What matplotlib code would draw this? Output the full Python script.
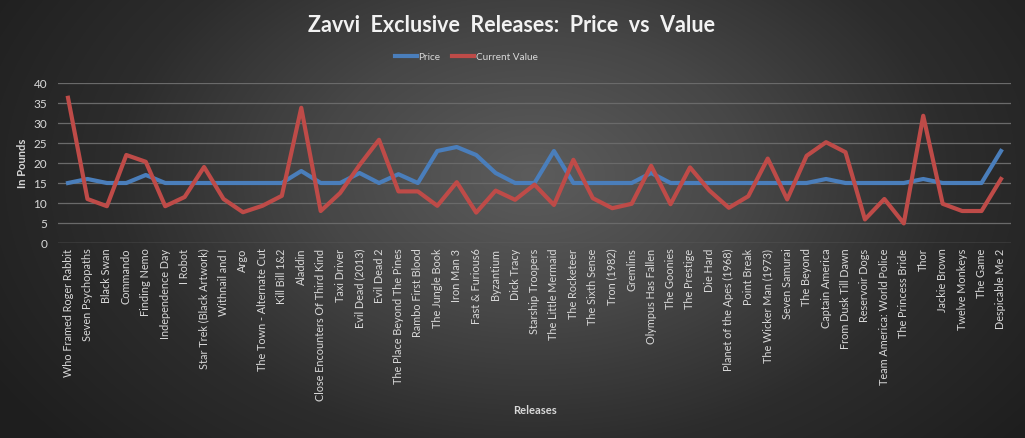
import numpy as np
import matplotlib
matplotlib.use("Agg")
import matplotlib.pyplot as plt
from matplotlib.colors import LinearSegmentedColormap

releases = [
    "Who Framed Roger Rabbit", "Seven Psychopaths", "Black Swan", "Commando",
    "Finding Nemo", "Independence Day", "I Robot", "Star Trek (Black Artwork)",
    "Withnail and I", "Argo", "The Town - Alternate Cut", "Kill Bill 1&2",
    "Aladdin", "Close Encounters Of Third Kind", "Taxi Driver", "Evil Dead (2013)",
    "Evil Dead 2", "The Place Beyond The Pines", "Rambo First Blood",
    "The Jungle Book", "Iron Man 3", "Fast & Furious6", "Byzantium", "Dick Tracy",
    "Starship Troopers", "The Little Mermaid", "The Rocketeer", "The Sixth Sense",
    "Tron (1982)", "Gremlins", "Olympus Has Fallen", "The Goonies", "The Prestige",
    "Die Hard", "Planet of the Apes (1968)", "Point Break", "The Wicker Man (1973)",
    "Seven Samurai", "The Beyond", "Captain America", "From Dusk Till Dawn",
    "Reservoir Dogs", "Team America: World Police", "The Princess Bride", "Thor",
    "Jackie Brown", "Twelve Monkeys", "The Game", "Despicable Me 2",
]

price = [15, 16, 15, 15, 17, 15, 15, 15, 15, 15, 15, 15, 18, 15, 15, 17.5, 15,
         17.2, 15, 23, 24, 22, 17.5, 15, 15, 23, 15, 15, 15, 15, 17.5, 15, 15,
         15, 15, 15, 15, 15, 15, 16, 15, 15, 15, 15, 16, 15, 15, 15, 23]

current_value = [36.3, 11, 9.2, 22, 20.3, 9.2, 11.5, 19, 11, 7.7, 9.3, 11.8,
                 33.8, 8, 12.5, 19.5, 25.8, 12.9, 12.9, 9.3, 15.2, 7.6, 13.1,
                 10.8, 14.6, 9.5, 20.8, 11.2, 8.7, 9.8, 19.3, 9.7, 18.9, 13.1,
                 8.8, 11.7, 21.1, 10.9, 21.8, 25.2, 22.7, 5.9, 11, 4.9, 31.8,
                 9.8, 8, 8, 16]

yticks = [0, 5, 10, 15, 20, 25, 30, 35, 40]

fig = plt.figure(figsize=(10.25, 4.38), dpi=100)

# radial gradient background
bg = fig.add_axes([0, 0, 1, 1], zorder=-10)
W, H = 1025, 438
xx, yy = np.meshgrid(np.linspace(0, 1, W), np.linspace(0, 1, H))
r = np.sqrt(((xx - 0.52) / 0.62) ** 2 + ((yy - 0.40) / 0.95) ** 2)
r = np.clip(r, 0, 1)
cmap = LinearSegmentedColormap.from_list("bg", ["#5c5c5c", "#474747", "#2c2c2c", "#1e1e1e"])
bg.imshow(r, cmap=cmap, aspect="auto", extent=[0, 1, 1, 0], vmin=0, vmax=1)
bg.axis("off")

ax = fig.add_axes([58.3 / W, 195 / H, (1010.7 - 58.3) / W, 160 / H])
ax.patch.set_alpha(0)
x = np.arange(len(releases))
ax.plot(x, price, color="#4a7ebb", lw=3.0, label="Price", solid_joinstyle="round", zorder=3)
ax.plot(x, current_value, color="#be4b48", lw=3.0, label="Current Value", solid_joinstyle="round", zorder=3)

ax.set_xlim(-0.5, len(releases) - 0.5)
ax.set_ylim(0, 40)
ax.set_yticks(yticks)
ax.grid(axis="y", color="#6a6a6a", lw=0.9)
ax.set_axisbelow(True)
for s in ax.spines.values():
    s.set_visible(False)
ax.axhline(0, color="#6a6a6a", lw=0.9, zorder=1)

fam = ["Lato", "DejaVu Sans"]
ax.set_xticks(x)
ax.set_xticklabels(releases, rotation=90, fontsize=7.8, color="#d9d9d9", family=fam)
ax.tick_params(axis="both", length=0, pad=4)
for lab in ax.get_yticklabels():
    lab.set_fontsize(8.5)
    lab.set_color("#d9d9d9")
    lab.set_family(fam)
ax.tick_params(axis="y", pad=8)

fig.text(22 / W, 1 - 163 / H, "In Pounds", rotation=90, ha="center", va="center",
         fontsize=8, fontweight="bold", color="#d9d9d9", family=fam)
fig.text(535 / W, 1 - 411 / H, "Releases", ha="center", va="center",
         fontsize=8, fontweight="bold", color="#d9d9d9", family=fam)
fig.text(512 / W, 1 - 25 / H, "Zavvi  Exclusive  Releases:  Price  vs  Value",
         ha="center", va="center", fontsize=15.5, fontweight="bold",
         color="#f2f2f2", family=fam)

leg = fig.legend(loc="center", bbox_to_anchor=(466 / W, 1 - 57 / H), ncol=2,
                 frameon=False, handlelength=2.2, handletextpad=0.2,
                 columnspacing=1.1, prop={"family": fam, "size": 7.2})
for t in leg.get_texts():
    t.set_color("#d9d9d9")

fig.savefig("out.png", dpi=100)
